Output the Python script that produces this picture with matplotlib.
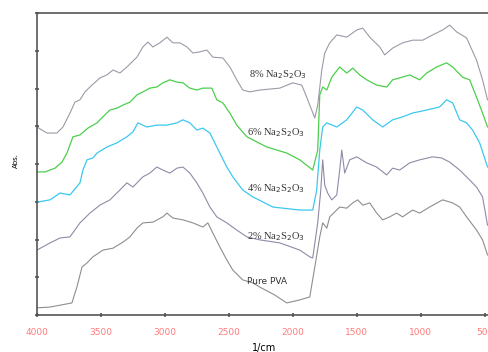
import numpy as np
import matplotlib
matplotlib.use("Agg")
import matplotlib.pyplot as plt

# FTIR spectra (wavenumber in 1/cm, absorbance in arbitrary offset units)
wn_8 = [4000, 3922, 3844, 3797, 3742, 3703, 3664, 3625, 3586, 3508, 3453, 3406, 3352, 3297, 3219,
        3172, 3133, 3094, 3039, 2984, 2938, 2883, 2828, 2781, 2727, 2672, 2625, 2547, 2492, 2438,
        2391, 2336, 2258, 2102, 2000, 1930, 1891, 1852, 1828, 1805, 1773, 1750, 1711, 1656, 1578,
        1500, 1453, 1398, 1320, 1281, 1219, 1141, 1063, 984, 906, 828, 773, 719, 641, 563, 516, 477]
abs_8 = [4.98, 4.82, 4.82, 4.98, 5.35, 5.64, 5.70, 5.91, 6.04, 6.28, 6.36, 6.49, 6.41, 6.57, 6.83,
         7.10, 7.23, 7.10, 7.21, 7.36, 7.21, 7.21, 7.10, 6.94, 6.97, 7.02, 6.83, 6.81, 6.57, 6.23,
         5.96, 5.91, 5.96, 6.01, 6.15, 6.09, 5.77, 5.43, 5.22, 5.56, 6.49, 6.94, 7.21, 7.42, 7.36,
         7.55, 7.60, 7.36, 7.10, 6.89, 7.07, 7.21, 7.28, 7.28, 7.42, 7.55, 7.68, 7.50, 7.34, 6.75, 6.23, 5.70]

wn_6 = [4000, 3938, 3859, 3805, 3766, 3719, 3664, 3602, 3531, 3484, 3430, 3375, 3328, 3273, 3219,
        3172, 3117, 3063, 3016, 2961, 2906, 2859, 2805, 2750, 2703, 2633, 2594, 2547, 2492, 2438,
        2359, 2203, 2047, 1945, 1844, 1805, 1789, 1766, 1734, 1695, 1633, 1578, 1531, 1477, 1422,
        1344, 1266, 1219, 1164, 1086, 1008, 953, 875, 797, 750, 672, 617, 563, 516, 477]
abs_6 = [3.79, 3.79, 3.89, 4.05, 4.29, 4.72, 4.77, 4.95, 5.09, 5.25, 5.43, 5.48, 5.56, 5.64, 5.83,
         5.91, 6.01, 6.04, 6.15, 6.23, 6.17, 6.15, 6.01, 5.96, 6.01, 6.01, 5.70, 5.62, 5.35, 5.03,
         4.72, 4.45, 4.29, 4.11, 3.84, 4.37, 5.83, 6.04, 5.96, 6.30, 6.57, 6.41, 6.54, 6.36, 6.23,
         6.09, 6.04, 6.23, 6.28, 6.36, 6.23, 6.41, 6.57, 6.68, 6.57, 6.30, 6.23, 5.77, 5.35, 4.98]

wn_4 = [4000, 3898, 3820, 3742, 3664, 3641, 3609, 3563, 3531, 3453, 3375, 3297, 3250, 3211, 3141,
        3063, 2984, 2906, 2859, 2805, 2750, 2703, 2648, 2594, 2516, 2469, 2391, 2313, 2156, 1945,
        1844, 1813, 1789, 1766, 1734, 1656, 1578, 1500, 1453, 1375, 1297, 1219, 1141, 1063, 953,
        852, 797, 750, 695, 641, 594, 539, 477]
abs_4 = [2.99, 3.05, 3.23, 3.18, 3.50, 3.84, 4.11, 4.16, 4.29, 4.45, 4.56, 4.72, 4.85, 5.09, 4.98,
         5.03, 5.03, 5.09, 5.17, 5.09, 4.90, 4.95, 4.82, 4.45, 3.92, 3.66, 3.31, 3.13, 2.86, 2.78,
         2.78, 3.31, 4.37, 4.98, 5.09, 4.98, 5.17, 5.51, 5.43, 5.17, 4.98, 5.17, 5.25, 5.35, 5.43,
         5.51, 5.70, 5.62, 5.17, 5.09, 4.90, 4.56, 3.92]

wn_2 = [4000, 3898, 3820, 3742, 3664, 3586, 3508, 3430, 3352, 3297, 3250, 3172, 3117, 3063, 3016,
        2961, 2906, 2859, 2805, 2750, 2703, 2648, 2594, 2516, 2438, 2359, 2258, 2102, 1945, 1867,
        1844, 1805, 1781, 1766, 1750, 1727, 1695, 1656, 1633, 1617, 1594, 1555, 1500, 1422, 1344,
        1266, 1219, 1164, 1086, 1008, 906, 836, 773, 695, 641, 563, 516, 477]
abs_2 = [1.72, 1.91, 2.04, 2.07, 2.44, 2.70, 2.91, 3.05, 3.31, 3.50, 3.39, 3.66, 3.76, 3.92, 3.84,
         3.76, 3.89, 3.92, 3.76, 3.50, 3.23, 2.86, 2.60, 2.44, 2.25, 2.07, 1.99, 1.91, 1.72, 1.54,
         1.51, 2.44, 3.31, 4.11, 3.44, 3.23, 3.05, 3.18, 3.84, 4.37, 3.76, 4.11, 4.19, 4.03, 3.92,
         3.71, 3.89, 3.84, 4.03, 4.11, 4.19, 4.16, 4.05, 3.84, 3.66, 3.39, 3.13, 2.38]

wn_pva = [4000, 3898, 3820, 3727, 3688, 3648, 3609, 3563, 3484, 3406, 3328, 3273, 3219, 3172, 3094,
          3016, 2984, 2938, 2859, 2781, 2703, 2664, 2625, 2570, 2516, 2469, 2391, 2313, 2258, 2141,
          2047, 1945, 1867, 1828, 1789, 1766, 1734, 1711, 1672, 1633, 1578, 1531, 1492, 1453, 1398,
          1344, 1297, 1242, 1188, 1141, 1063, 1008, 930, 828, 750, 695, 641, 563, 516, 477]
abs_pva = [0.19, 0.21, 0.26, 0.32, 0.74, 1.27, 1.38, 1.54, 1.72, 1.77, 1.93, 2.07, 2.30, 2.44, 2.46,
           2.60, 2.70, 2.57, 2.52, 2.44, 2.33, 2.44, 2.17, 1.80, 1.46, 1.19, 0.93, 0.85, 0.74, 0.53,
           0.32, 0.40, 0.48, 1.27, 2.07, 2.44, 2.30, 2.60, 2.73, 2.86, 2.83, 2.97, 3.05, 2.91, 2.97,
           2.70, 2.52, 2.60, 2.70, 2.60, 2.78, 2.70, 2.86, 3.05, 2.97, 2.86, 2.60, 2.25, 1.99, 1.59]

x_ticks = [4000, 3500, 3000, 2500, 2000, 1500, 1000, 500]

fig = plt.figure(figsize=(4.88, 3.52), dpi=100)
ax = fig.add_axes([37 / 488, 1 - 315 / 352, 454 / 488, 302 / 352])

ax.plot(wn_pva, abs_pva, color="#8e8e8e", lw=0.8)
ax.plot(wn_2, abs_2, color="#8f8aa6", lw=0.8)
ax.plot(wn_4, abs_4, color="#3cc8ee", lw=0.9)
ax.plot(wn_6, abs_6, color="#4ccf4c", lw=0.9)
ax.plot(wn_8, abs_8, color="#9d9aa8", lw=0.8)

# labels on the curves
lab_font = dict(fontsize=7.5, family="Liberation Serif", color="#333333", va="center")
ax.text(2344, 6.36, "8% Na$_2$S$_2$O$_3$", **lab_font)
ax.text(2355, 4.82, "6% Na$_2$S$_2$O$_3$", **lab_font)
ax.text(2360, 3.36, "4% Na$_2$S$_2$O$_3$", **lab_font)
ax.text(2360, 2.09, "2% Na$_2$S$_2$O$_3$", **lab_font)
ax.text(2360, 0.90, "Pure PVA", fontsize=6.5, color="#333333", va="center")

ax.set_xlim(4000, 450)
ax.set_ylim(0, 8)
ax.set_xticks(x_ticks)
ax.set_yticks(range(0, 9))
ax.set_yticklabels([])
ax.tick_params(axis="x", direction="inout", length=3, width=1.2, colors="#555555",
               labelcolor="#ff7b7b", labelsize=6.5, pad=8)
ax.tick_params(axis="y", direction="inout", length=3, width=1.2, colors="#555555")
for s in ax.spines.values():
    s.set_color("#555555")
    s.set_linewidth(1.2)

ax.set_xlabel("1/cm", fontsize=7, labelpad=4)
fig.text(16 / 488, 1 - 160 / 352, "Abs.", rotation=90, fontsize=5, ha="center", va="center")

fig.savefig("out.png", dpi=100)
